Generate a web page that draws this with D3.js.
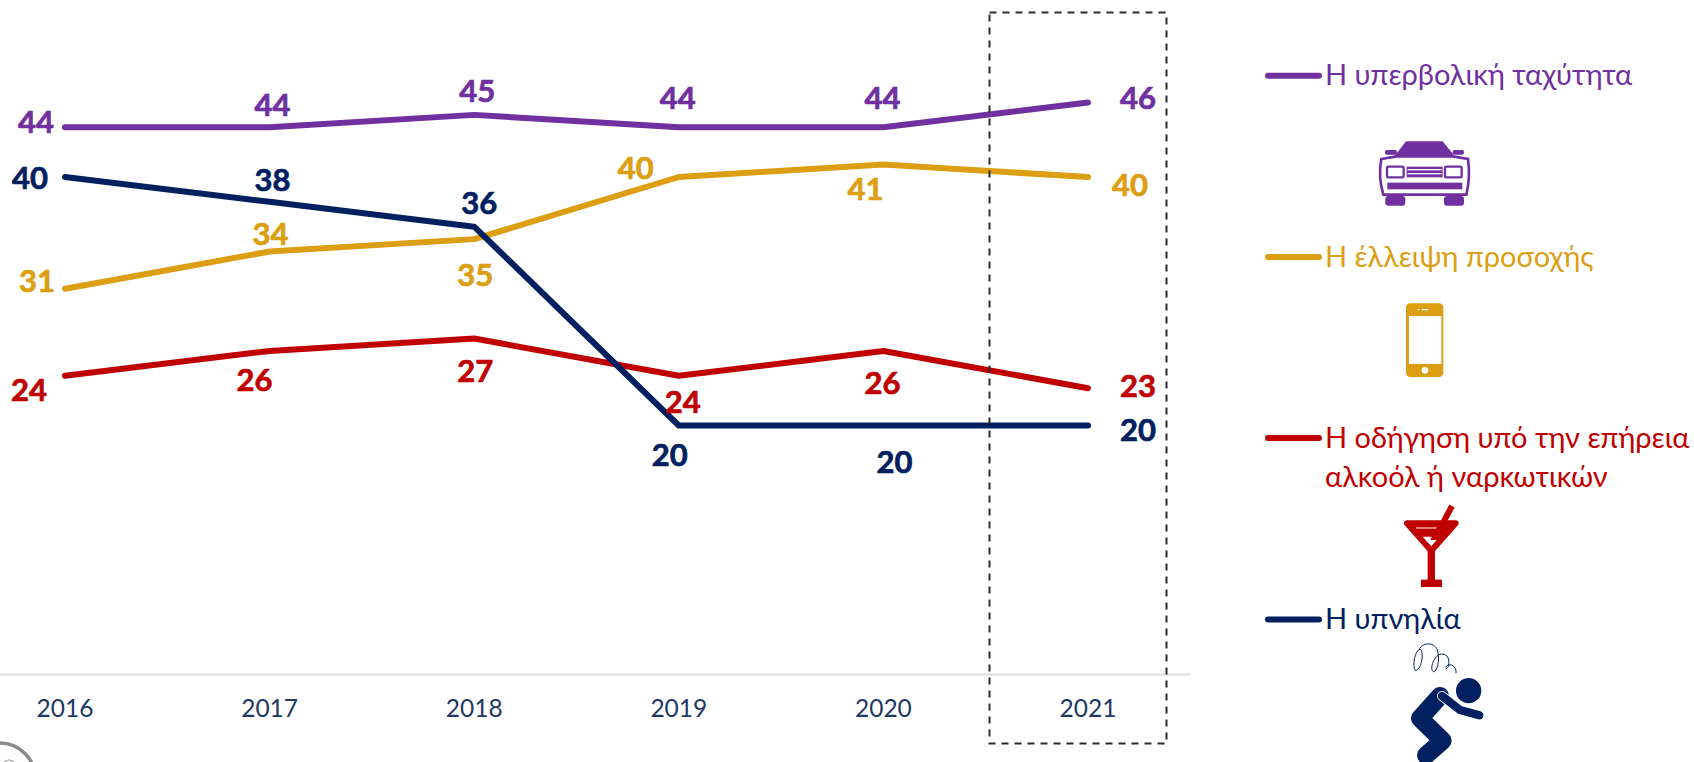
<!DOCTYPE html>
<html><head><meta charset="utf-8">
<script src="https://cdnjs.cloudflare.com/ajax/libs/d3/7.8.5/d3.min.js"></script>
<style>html,body{margin:0;background:#fff;overflow:hidden}svg{display:block}text{font-family:Lato,"Open Sans",sans-serif}</style>
</head><body><svg id="c" width="1694" height="762"></svg>
<script>
const years=["2016","2017","2018","2019","2020","2021"];
const speed=[44,44,45,44,44,46];
const distraction=[31,34,35,40,41,40];
const alcohol=[24,26,27,24,26,23];
const sleepiness=[40,38,36,20,20,20];
const names=["Η υπερβολική ταχύτητα","Η έλλειψη προσοχής","Η οδήγηση υπό την επήρεια|αλκοόλ ή ναρκωτικών","Η υπνηλία"];

const colors=["#7030A0","#DC9E12","#C00000","#002060"];
const labelDx=[[-29,3,3,-1,-1,50],[-28,1,1,-43,-18,42],[-36,-15,1,4,-1,50],[-35,3,5,-9,11,50]];
const labelDy=[[-5,-22,-24,-29,-29,-5],[-8,-18,36,-9,24,8],[14,29,32,26,32,-2],[1,-22,-24,29,36,4]];
const series=[speed,distraction,alcohol,sleepiness];
const legendY=[75.7,257,438,619.5];

const svg=d3.select("#c");
const x=d3.scaleBand().domain(years).range([-37.3,1190.3]);
const y=d3.scaleLinear().domain([0,40]).range([674,177]);
const cx=d=>x(d)+x.bandwidth()/2;

const ax=svg.append("g").attr("transform","translate(0,674)").call(d3.axisBottom(x).tickSize(0).tickPadding(26));
ax.select(".domain").attr("stroke","#e2e2e2").attr("stroke-width",2.5);
ax.selectAll("text").attr("fill","#1F3864").attr("font-size",24.5).style("font-family","Lato");

const line=d3.line().x((d,i)=>cx(years[i])).y(d=>y(d));
const order=[1,2,0,3];
order.forEach(s=>{
  svg.append("path").datum(series[s]).attr("d",line).attr("fill","none").attr("stroke",colors[s])
    .attr("stroke-width",6).attr("stroke-linecap","round").attr("stroke-linejoin","round");
});
series.forEach((vals,s)=>{
  svg.append("g").selectAll("text").data(vals).join("text")
    .attr("x",(d,i)=>cx(years[i])+labelDx[s][i])
    .attr("y",(d,i)=>y(d)+labelDy[s][i])
    .attr("dy","0.36em").attr("text-anchor","middle")
    .attr("fill",colors[s]).attr("stroke",colors[s]).attr("stroke-width",0.7)
    .attr("font-weight",700).attr("font-size",31).text(d=>d);
});

// dashed highlight
svg.append("rect").attr("x",989.5).attr("y",12.5).attr("width",177).attr("height",731)
  .attr("fill","none").attr("stroke","#2b2b2b").attr("stroke-width",2).attr("stroke-dasharray","7 6");

// legend
names.forEach((n,s)=>{
  svg.append("line").attr("x1",1268).attr("x2",1319).attr("y1",legendY[s]).attr("y2",legendY[s])
    .attr("stroke",colors[s]).attr("stroke-width",6).attr("stroke-linecap","round");
  n.split("|").forEach((t,i)=>{
    svg.append("text").attr("x",1325).attr("y",legendY[s]+9.5+i*39.5)
      .attr("fill",colors[s]).attr("font-size",29).text(t);
  });
});

// icons, drawn in 3x crop coordinates
const car=svg.append("g").attr("transform","translate(1240,40) scale(.3333)").attr("fill",colors[0]);
car.append("path").attr("d","M462,350 L498,304 H608 L646,350 Z");
car.append("rect").attr("x",435).attr("y",330).attr("width",36).attr("height",14).attr("rx",5);
car.append("rect").attr("x",638).attr("y",330).attr("width",34).attr("height",14).attr("rx",5);
car.append("path").attr("d","M424,357 L470,349 H638 L684,357 Q692,410 679,464 H430 Q414,410 424,357 Z").attr("fill","#fff").attr("stroke",colors[0]).attr("stroke-width",8);
[[441,380],[615,380]].forEach(p=>car.append("rect").attr("x",p[0]).attr("y",p[1]).attr("width",50).attr("height",32).attr("rx",5).attr("fill","#fff").attr("stroke",colors[0]).attr("stroke-width",7));
car.append("rect").attr("x",500).attr("y",380).attr("width",108).attr("height",32);
[389,401].forEach(v=>car.append("rect").attr("x",503).attr("y",v-2).attr("width",102).attr("height",4).attr("fill","#fff"));
car.append("rect").attr("x",442).attr("y",428).attr("width",225).attr("height",20);
car.append("rect").attr("x",436).attr("y",468).attr("width",60).attr("height",29).attr("rx",9);
car.append("rect").attr("x",612).attr("y",468).attr("width",60).attr("height",29).attr("rx",9);

const ph=svg.append("g").attr("transform","translate(1240,40) scale(.3333)");
ph.append("rect").attr("x",498).attr("y",790).attr("width",112).attr("height",221).attr("rx",13).attr("fill",colors[1]);
ph.append("rect").attr("x",507).attr("y",828).attr("width",97).attr("height",144).attr("fill","#fff");
ph.append("circle").attr("cx",555).attr("cy",991).attr("r",10).attr("fill","#fff");
ph.append("rect").attr("x",545).attr("y",807).attr("width",20).attr("height",4).attr("fill","#fff");
ph.append("circle").attr("cx",536).attr("cy",809).attr("r",2.5).attr("fill","#fff");

const gl=svg.append("g").attr("transform","translate(1240,400) scale(.3333)");
gl.append("path").attr("d","M501,370 H647 L574,452 Z").attr("fill","none").attr("stroke",colors[2]).attr("stroke-width",18).attr("stroke-linejoin","round");
gl.append("path").attr("d","M515,378 H635 L600,420 H555 Z").attr("fill",colors[2]);
gl.append("path").attr("d","M528,384 H590").attr("stroke","#fff").attr("stroke-width",3);
gl.append("path").attr("d","M548,410 H575 L568,432 Z").attr("fill","#fff");
gl.append("path").attr("d","M636,318 L586,412").attr("stroke",colors[2]).attr("stroke-width",18);
gl.append("rect").attr("x",563).attr("y",450).attr("width",22).attr("height",95).attr("fill",colors[2]);
gl.append("rect").attr("x",543).attr("y",539).attr("width",63).attr("height",22).attr("fill",colors[2]);

const pr=svg.append("g").attr("transform","translate(1240,400) scale(.3333)");
const nv=colors[3];
pr.append("circle").attr("cx",686).attr("cy",872).attr("r",38).attr("fill",nv);
pr.append("path").attr("d","M600,888 L540,955 L608,1022 L558,1066").attr("fill","none").attr("stroke",nv).attr("stroke-width",54).attr("stroke-linecap","round").attr("stroke-linejoin","round");
pr.append("path").attr("d","M606,888 L660,930 L718,946").attr("fill","none").attr("stroke","#fff").attr("stroke-width",30).attr("stroke-linecap","round");
pr.append("path").attr("d","M606,888 L660,930 L718,946").attr("fill","none").attr("stroke",nv).attr("stroke-width",25).attr("stroke-linecap","round");
pr.append("path").attr("d","M527,812 C515,800 525,750 540,748 C552,750 548,805 527,812 M538,748 C545,730 580,722 592,750 C602,780 590,818 580,815 C568,810 580,765 605,762 C630,762 628,790 625,800 C618,812 612,800 625,795 C640,792 650,805 648,820")
  .attr("fill","none").attr("stroke",nv).attr("stroke-width",3);

// partial ring in lower-left corner
svg.append("circle").attr("cx",0).attr("cy",778).attr("r",35).attr("fill","none").attr("stroke","#8a8a8a").attr("stroke-width",3.5);
svg.append("circle").attr("cx",9).attr("cy",766).attr("r",6).attr("fill","none").attr("stroke","#999").attr("stroke-width",1.2);
</script></body></html>
